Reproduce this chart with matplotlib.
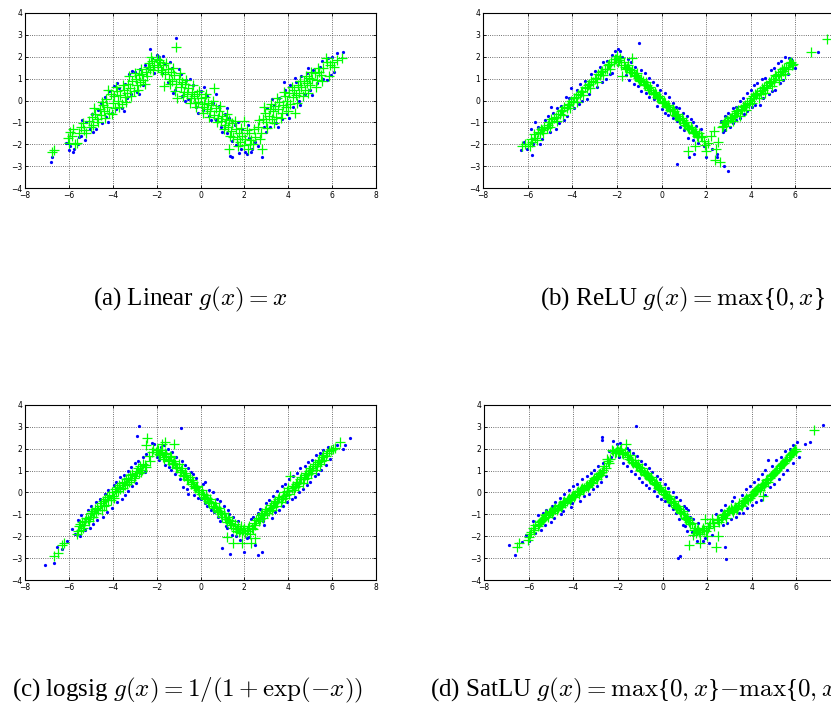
import numpy as np
import matplotlib
matplotlib.use("Agg")
import matplotlib.pyplot as plt

plt.rcParams['mathtext.fontset'] = 'cm'
plt.rcParams['font.family'] = ['Liberation Serif', 'DejaVu Serif']

# ---- (a) Linear ----
a_blue = [(-6.8,-2.8),(-6.75,-2.6),(-6.15,-1.95),(-6.05,-1.95),(-5.95,-2.1),(-5.8,-2.35),(-5.75,-2.2),(-5.55,-1.65),
          (-5.45,-1.6),(-5.4,-0.9),(-5.25,-1.8),(-5.05,-1.3),(-4.95,-0.6),(-4.75,-1.3),(-4.65,-0.45),(-4.5,-1.05),
          (-4.35,0.15),(-4.3,-0.75),(-4.15,0.45),(-4.05,-0.55),(-3.95,0.65),(-3.85,-0.4),(-3.7,0.55),(-3.6,-0.35),
          (-3.45,0.75),(-3.35,0.1),(-3.25,1.2),(-3.15,0.3),(-3.0,1.3),(-2.9,0.4),(-2.75,1.45),(-2.6,0.7),(-2.45,1.5),
          (-2.3,2.35),(-2.2,1.95),(-2.0,2.1),(-1.9,2.0),(-1.75,1.25),(-1.6,1.65),(-1.5,0.85),(-1.3,1.5),(-1.1,2.85),
          (-1.15,0.5),(-0.9,1.2),(-0.85,0.2),(-0.65,0.95),(-0.55,0.05),(-0.35,0.7),(-0.2,-0.3),(0.0,0.45),(0.1,-0.45),
          (0.3,0.2),(0.4,-0.7),(0.55,-0.1),(0.7,-0.9),(0.85,-0.25),(0.95,-1.2),(1.1,-0.6),(1.2,-1.5),(1.3,-0.8),
          (1.35,-2.55),(1.45,-2.6),(1.45,-1.85),(1.6,-2.05),(1.7,-1.0),(1.85,-2.2),(1.9,-1.3),(2.05,-2.35),(2.1,-2.45),
          (2.2,-1.7),(2.35,-2.2),(2.5,-1.9),(2.8,-2.6),(2.9,-1.2),(3.05,-0.35),(3.15,-1.2),(3.35,-0.2),(3.45,-1.05),
          (3.6,0.1),(3.7,-0.85),(3.85,0.5),(3.95,-0.6),(4.1,0.7),(4.2,-0.3),(4.35,0.85),(4.5,0.0),(4.6,1.1),(4.75,0.3),
          (4.85,1.25),(5.0,0.5),(5.15,1.4),(5.3,0.8),(5.45,1.55),(5.6,1.0),(5.8,1.95),(5.95,1.15),(6.0,2.0),(6.2,2.15),
          (6.5,2.2),
          (-6.0,-2.25),(-5.6,-2.0),(-5.2,-1.0),(-4.9,-1.45),(-4.55,-0.1),(-4.2,-1.0),(-3.8,0.8),(-3.5,-0.5),(-3.1,1.35),
          (-2.8,0.3),(-2.55,1.6),(-2.1,1.25),(-1.7,2.05),(-1.4,1.75),(-1.25,0.35),(-1.0,1.45),(-0.7,0.0),(-0.5,1.0),
          (-0.1,-0.55),(0.15,0.6),(0.5,-0.9),(0.7,0.3),(1.0,-1.45),(1.2,-0.35),(1.55,-1.1),(1.75,-2.4),(2.15,-1.1),
          (2.3,-2.35),(2.6,-2.1),(3.0,-1.45),(3.25,0.05),(3.55,-1.2),(3.8,0.85),(4.05,-0.8),(4.3,1.05),(4.55,-0.2),
          (4.9,1.5),(5.1,0.25),(5.55,1.8),(5.75,0.95),(6.1,1.3)]
a_green = [(-6.75,-2.35),(-6.7,-2.25),(-6.05,-1.7),(-5.95,-1.45),(-5.85,-1.6),(-5.7,-2.0),(-5.65,-1.95),(-5.45,-1.2),
           (-5.35,-1.05),(-5.3,-1.35),(-5.2,-1.5),(-5.1,-0.95),(-4.95,-0.75),(-4.9,-1.1),(-4.8,-0.6),(-4.7,-0.85),
           (-4.6,-0.4),(-4.55,-0.65),(-4.45,-0.2),(-4.4,-0.5),(-4.3,0.05),(-4.25,-0.3),(-4.15,-0.55),(-4.1,0.3),
           (-4.0,-0.1),(-3.95,0.2),(-3.9,-0.35),(-3.8,0.45),(-3.75,0.0),(-3.65,0.25),(-3.6,-0.15),(-3.5,0.5),
           (-3.45,0.15),(-3.35,0.35),(-3.3,0.75),(-3.2,0.55),(-3.1,0.9),(-3.05,0.45),(-2.95,1.0),(-2.9,0.7),
           (-2.8,1.15),(-2.75,0.85),(-2.65,1.2),(-2.6,0.95),(-2.5,1.3),(-2.45,1.1),(-2.35,1.7),(-2.3,1.45),
           (-2.2,1.8),(-2.1,1.6),(-2.0,1.9),(-1.95,1.55),(-1.85,1.75),(-1.8,1.4),(-1.7,1.6),(-1.65,0.65),(-1.6,1.2),
           (-1.5,1.45),(-1.45,1.0),(-1.35,1.3),(-1.3,0.9),(-1.2,1.15),(-1.1,2.45),(-1.1,0.75),(-1.05,0.1),(-1.0,1.0),
           (-0.9,0.6),(-0.85,0.85),(-0.75,0.4),(-0.7,0.75),(-0.6,0.3),(-0.55,0.55),(-0.45,0.1),(-0.4,0.4),(-0.3,0.2),
           (-0.25,-0.1),(-0.15,0.3),(-0.1,-0.05),(0.0,0.1),(0.05,-0.3),(0.15,-0.15),(0.2,0.15),(0.3,-0.4),(0.35,-0.1),
           (0.45,-0.5),(0.5,-0.2),(0.6,0.55),(0.6,-0.65),(0.7,-0.35),(0.8,-0.8),(0.85,-0.5),(0.95,-0.95),(1.0,-0.7),
           (1.1,-1.1),(1.15,-0.85),(1.25,-1.2),(1.3,-0.9),(1.3,-2.2),(1.4,-1.4),(1.45,-1.05),(1.5,-1.65),(1.6,-1.3),
           (1.65,-1.75),(1.75,-1.5),(1.8,-1.9),(1.9,-1.6),(2.0,-2.05),(2.0,-0.95),(2.05,-1.75),(2.15,-2.2),(2.2,-1.5),
           (2.3,-1.8),(2.4,-2.0),(2.5,-1.65),(2.6,-1.2),(2.65,-0.9),(2.75,-1.5),(2.8,-2.2),(2.85,-0.85),(2.95,-0.55),
           (3.0,-1.0),(3.1,-0.7),(3.15,-0.4),(3.25,-0.85),(3.3,-0.5),(3.4,-0.25),(3.45,-0.75),(3.55,-0.4),(3.6,-0.05),
           (3.7,-0.55),(3.75,-0.2),(3.85,0.2),(3.9,-0.3),(3.95,0.0),(4.05,0.35),(4.1,-0.15),(4.2,0.15),(4.25,0.5),
           (4.3,-0.55),(4.35,0.25),(4.45,0.7),(4.5,0.35),(4.6,0.6),(4.7,0.9),(4.75,0.5),(4.85,0.8),(4.95,1.05),
           (5.0,0.7),(5.1,1.0),(5.2,1.25),(5.3,0.95),(5.4,1.3),(5.5,1.15),(5.6,1.5),(5.75,1.75),(5.85,1.1),(5.9,1.6),
           (6.0,1.75),(6.1,1.55),(6.45,1.95),
           (-6.0,-1.95),(-5.8,-1.3),(-5.55,-1.5),(-5.0,-1.2),(-4.85,-0.35),(-4.65,-1.0),(-4.5,-0.05),(-4.35,-0.8),
           (-4.2,0.5),(-4.05,-0.6),(-3.85,0.6),(-3.7,-0.3),(-3.55,0.7),(-3.4,-0.05),(-3.25,1.1),(-3.15,0.2),
           (-3.0,1.25),(-2.85,0.5),(-2.7,1.45),(-2.55,0.75),(-2.4,1.55),(-2.25,2.0),(-2.15,1.4),(-1.9,1.85),
           (-1.75,1.3),(-1.55,1.7),(-1.4,0.75),(-1.25,1.5),(-1.15,0.45),(-0.95,1.25),(-0.8,0.2),(-0.65,0.95),
           (-0.5,-0.1),(-0.35,0.7),(-0.2,-0.3),(-0.05,0.45),(0.1,-0.55),(0.25,0.3),(0.4,-0.75),(0.55,0.0),(0.75,-1.0),
           (0.9,-0.25),(1.05,-1.3),(1.2,-0.6),(1.35,-1.6),(1.55,-0.95),(1.7,-2.1),(1.85,-1.25),(2.1,-1.35),(2.25,-2.0),
           (2.45,-1.3),(2.7,-1.75),(2.9,-0.3),(3.05,-1.25),(3.2,-0.15),(3.35,-1.05),(3.5,0.1),(3.65,-0.8),(3.8,0.4),
           (4.0,-0.5),(4.15,0.6),(4.4,-0.1),(4.55,0.9),(4.65,0.2),(4.8,1.1),(4.9,0.35),(5.05,1.3),(5.25,0.6),
           (5.35,1.5),(5.55,0.9),(5.7,1.95),(6.2,1.85)]

# ---- (b) ReLU ----
b_blue = [(-6.3,-2.25),(-6.15,-1.9),(-5.8,-2.5),(-5.75,-2.0),(-5.55,-1.2),(-5.35,-1.75),(-5.2,-0.9),(-5.0,-1.45),
          (-4.85,-0.55),(-4.6,-1.05),(-4.5,-0.25),(-4.25,-0.7),(-4.15,0.1),(-3.9,-0.35),(-3.8,0.5),(-3.55,0.0),
          (-3.45,0.9),(-3.25,0.3),(-3.15,1.2),(-2.9,0.6),(-2.75,1.55),(-2.5,1.0),(-2.45,1.8),(-2.2,1.25),(-2.1,2.25),
          (-1.95,2.35),(-1.6,1.15),(-1.75,2.0),(-1.35,1.75),(-1.0,2.65),(-1.05,0.65),(-0.75,1.25),(-0.7,0.35),
          (-0.4,0.85),(-0.35,0.05),(-0.05,0.5),(0.0,-0.4),(0.35,0.15),(0.3,-0.65),(0.65,-0.3),(0.7,-0.95),(0.95,-0.55),
          (1.0,-1.35),(1.3,-0.85),(1.2,-1.7),(1.55,-1.15),(1.65,-1.95),(1.25,-2.6),(1.45,-2.45),(0.7,-2.9),(2.0,-2.6),
          (2.5,-2.45),(2.5,-2.6),(2.8,-3.0),(3.0,-3.2),(2.75,-1.45),(2.65,-0.95),(3.05,-1.2),(3.0,-0.55),(3.35,-0.9),
          (3.35,-0.3),(3.7,-0.6),(3.65,0.1),(4.05,-0.3),(4.0,0.5),(4.3,0.8),(4.4,-0.2),(4.65,1.05),(4.8,0.3),(4.9,1.4),
          (5.1,0.5),(5.2,1.7),(5.45,0.95),(5.55,2.0),(5.8,1.9),(5.95,1.65),(6.0,1.5),(7.0,2.2),(7.7,3.2),(-5.85,-1.3),
          (-4.95,-0.3),(-4.05,0.55),
          (-6.05,-2.2),(-5.65,-1.0),(-5.45,-2.0),(-5.1,-0.7),(-4.75,-1.3),(-4.7,-0.35),(-4.35,-0.9),(-4.3,0.15),
          (-3.7,-0.15),(-3.65,0.75),(-3.35,0.05),(-3.0,1.35),(-2.65,0.85),(-2.6,1.75),(-2.3,1.2),(-2.2,2.1),
          (-1.85,2.25),(-1.5,1.9),(-1.45,0.95),(-1.2,1.55),(-1.25,0.75),(-0.9,1.4),(-0.9,0.45),(-0.55,1.05),
          (-0.55,0.15),(-0.2,0.7),(-0.2,-0.25),(0.15,0.35),(0.15,-0.55),(0.5,-0.1),(0.5,-0.8),(0.8,-0.35),(0.85,-1.2),
          (1.15,-0.7),(1.4,-1.0),(1.4,-1.8),(1.75,-1.3),(1.9,-2.1),(2.25,-2.2),(2.85,-1.35),(2.85,-0.7),(3.2,-1.05),
          (3.2,-0.35),(3.5,-0.8),(3.5,0.0),(3.85,-0.5),(3.85,0.35),(4.2,-0.2),(4.15,0.7),(4.55,0.1),(4.5,1.0),
          (4.95,0.45),(5.05,1.5),(5.3,0.8),(5.35,1.8),(5.65,1.2),(5.7,1.95)]
b_green = [(-6.25,-2.1),(-6.1,-2.0),(-5.9,-2.1),(-5.85,-1.75),(-5.7,-1.55),(-5.6,-1.8),(-5.55,-1.45),(-5.4,-1.3),
           (-5.3,-1.5),(-5.25,-1.2),(-5.1,-1.1),(-5.0,-1.2),(-4.95,-0.85),(-4.8,-0.8),(-4.7,-0.95),(-4.65,-0.6),
           (-4.5,-0.5),(-4.4,-0.65),(-4.35,-0.3),(-4.2,-0.2),(-4.1,-0.35),(-4.05,0.0),(-3.9,0.1),(-3.8,-0.05),
           (-3.75,0.3),(-3.6,0.4),(-3.5,0.25),(-3.45,0.6),(-3.3,0.7),(-3.2,0.55),(-3.15,0.9),(-3.0,1.0),(-2.9,0.85),
           (-2.85,1.2),(-2.7,1.3),(-2.6,1.15),(-2.55,1.45),(-2.4,1.6),(-2.3,1.45),(-2.25,1.75),(-2.1,1.9),(-2.0,2.05),
           (-1.95,1.75),(-1.85,1.95),(-1.8,1.6),(-1.75,1.1),(-1.7,1.75),(-1.6,1.45),(-1.5,1.6),(-1.4,1.3),(-1.3,1.95),
           (-1.3,1.4),(-1.2,1.1),(-1.1,1.25),(-1.0,0.95),(-0.9,1.0),(-0.8,0.75),(-0.7,0.85),(-0.6,0.55),(-0.5,0.6),
           (-0.4,0.35),(-0.3,0.4),(-0.2,0.15),(-0.1,0.2),(0.0,-0.05),(0.1,0.0),(0.2,-0.25),(0.3,-0.2),(0.4,-0.45),
           (0.5,-0.4),(0.6,-0.65),(0.7,-0.6),(0.8,-0.85),(0.9,-0.8),(1.0,-1.05),(1.1,-1.0),(1.2,-1.25),(1.3,-1.2),
           (1.4,-1.45),(1.5,-1.4),(1.6,-1.6),(1.7,-1.5),(1.8,-1.65),(1.2,-2.3),(1.5,-2.1),(1.9,-1.85),(2.0,-2.3),
           (2.1,-1.95),(2.2,-1.6),(2.35,-1.4),(2.4,-2.7),(2.45,-2.2),(2.55,-1.9),(2.6,-2.8),(2.7,-1.2),(2.8,-1.05),
           (2.9,-1.15),(2.95,-0.9),(3.1,-0.8),(3.2,-0.95),(3.25,-0.65),(3.4,-0.55),(3.5,-0.7),(3.55,-0.4),(3.7,-0.3),
           (3.8,-0.45),(3.85,-0.1),(3.95,0.0),(4.05,-0.1),(4.1,0.2),(4.25,0.25),(4.35,0.1),(4.4,0.45),(4.55,0.5),
           (4.65,0.35),(4.7,0.7),(4.85,0.8),(4.95,0.65),(5.0,1.0),(5.15,1.1),(5.25,0.95),(5.3,1.3),(5.45,1.35),
           (5.55,1.2),(5.6,1.55),(5.75,1.7),(5.85,1.6),(6.7,2.2),(7.4,2.8),
           (-6.0,-2.0),(-5.8,-1.9),(-5.65,-1.7),(-5.45,-1.5),(-5.35,-1.35),(-5.15,-1.25),(-5.05,-1.0),(-4.9,-1.0),
           (-4.75,-0.75),(-4.55,-0.6),(-4.45,-0.45),(-4.25,-0.35),(-4.15,-0.15),(-3.95,-0.05),(-3.85,0.15),
           (-3.65,0.25),(-3.55,0.45),(-3.35,0.55),(-3.25,0.75),(-3.05,0.85),(-2.95,1.05),(-2.75,1.15),(-2.65,1.35),
           (-2.45,1.45),(-2.35,1.65),(-2.15,1.75),(-2.05,1.9),(-1.9,1.85),(-1.65,1.55),(-1.55,1.5),(-1.45,1.45),
           (-1.35,1.3),(-1.25,1.25),(-1.15,1.15),(-1.05,1.05),(-0.95,0.9),(-0.85,0.9),(-0.75,0.7),(-0.65,0.7),
           (-0.55,0.5),(-0.45,0.5),(-0.35,0.3),(-0.25,0.3),(-0.15,0.1),(-0.05,0.1),(0.05,-0.1),(0.15,-0.1),
           (0.25,-0.3),(0.35,-0.3),(0.45,-0.5),(0.55,-0.5),(0.65,-0.7),(0.75,-0.7),(0.85,-0.9),(0.95,-0.9),
           (1.05,-1.1),(1.15,-1.15),(1.25,-1.3),(1.35,-1.3),(1.45,-1.5),(1.55,-1.5),(1.65,-1.65),(1.75,-1.6),
           (1.95,-2.05),(2.75,-1.15),(2.85,-0.95),(3.0,-0.95),(3.05,-0.8),(3.15,-0.75),(3.3,-0.7),(3.35,-0.5),
           (3.45,-0.45),(3.6,-0.45),(3.65,-0.25),(3.75,-0.2),(3.9,-0.15),(4.0,0.1),(4.15,0.1),(4.2,0.3),(4.3,0.35),
           (4.45,0.3),(4.5,0.55),(4.6,0.6),(4.75,0.55),(4.8,0.85),(4.9,0.9),(5.05,0.85),(5.1,1.15),(5.2,1.2),
           (5.35,1.15),(5.4,1.45),(5.5,1.5),(5.65,1.45),(5.7,1.7),(5.8,1.75),(5.9,1.65)]

# ---- (c) logsig ----
c_blue = [(-7.1,-3.3),(-6.7,-3.2),(-6.55,-2.5),(-5.85,-1.65),(-5.7,-1.9),(-5.45,-1.05),(-5.25,-1.7),(-5.0,-0.6),
          (-4.9,-1.45),(-4.6,-0.3),(-4.45,-1.1),(-4.2,0.1),(-4.05,-0.7),(-3.85,0.5),(-3.6,-0.3),(-3.5,0.8),(-3.3,0.05),
          (-3.15,1.15),(-2.95,0.45),(-2.85,1.45),(-2.9,2.6),(-2.8,3.05),(-2.7,0.9),(-2.6,1.6),(-2.2,2.25),(-2.0,1.6),
          (-1.8,2.1),(-1.6,1.25),(-1.5,2.0),(-1.35,1.05),(-1.1,1.6),(-0.9,2.95),(-0.95,0.6),(-0.8,0.25),(-0.7,1.25),
          (-0.55,-0.05),(-0.45,0.95),(-0.3,-0.1),(-0.2,0.65),(0.0,-0.3),(0.1,0.4),(0.3,-0.6),(0.4,0.1),(0.6,-0.9),
          (0.75,-0.3),(0.9,-1.3),(1.05,-0.6),(1.0,-2.55),(1.15,-1.55),(1.3,-1.0),(1.35,-2.8),(1.6,-2.0),(1.7,-1.3),
          (2.0,-2.7),(2.1,-2.1),(2.4,-1.1),(2.6,-2.85),(2.8,-2.7),(2.7,-0.75),(2.9,-1.5),(3.1,-0.35),(3.25,-1.15),
          (3.5,0.05),(3.6,-0.8),(3.85,0.4),(3.95,-0.45),(4.2,0.75),(4.3,-0.2),(4.55,1.1),(4.65,0.15),(4.9,1.4),
          (5.0,0.5),(5.25,1.7),(5.35,0.85),(5.6,1.95),(5.7,1.25),(6.5,2.0),(6.6,2.15),(6.8,2.5),
          (-6.3,-2.6),(-6.1,-2.2),(-5.6,-1.25),(-5.5,-2.0),(-5.15,-0.8),(-5.05,-1.6),(-4.75,-0.45),(-4.7,-1.25),
          (-4.35,-0.05),(-4.25,-0.9),(-3.95,0.35),(-3.8,-0.45),(-3.65,0.7),(-3.45,-0.1),(-3.3,1.0),(-3.1,0.3),
          (-3.0,1.35),(-2.55,0.95),(-2.5,1.75),(-2.1,2.2),(-1.9,1.5),(-1.65,2.15),(-1.45,1.15),(-1.3,1.85),
          (-1.15,0.85),(-0.85,1.45),(-0.6,0.15),(-0.55,1.1),(-0.35,0.85),(-0.1,-0.25),(0.2,0.5),(0.2,-0.5),
          (0.5,-0.8),(0.55,0.0),(0.8,-1.1),(0.9,-0.4),(1.2,-1.6),(1.25,-0.8),(1.45,-1.95),(1.5,-1.1),(1.8,-2.15),
          (2.2,-2.05),(2.3,-1.2),(2.5,-2.4),(2.6,-0.95),(2.85,-1.3),(3.0,-0.5),(3.4,-0.9),(3.3,-0.15),(3.75,-0.6),
          (3.7,0.3),(4.05,0.6),(4.15,-0.3),(4.4,0.9),(4.5,0.0),(4.75,1.2),(4.85,0.35),(5.1,1.5),(5.2,0.75),
          (5.45,1.8),(5.5,1.05),(5.8,2.1),(5.9,1.55),(6.2,2.15)]
c_green = [(-6.7,-2.9),(-6.5,-2.75),(-6.3,-2.4),(-6.2,-2.3),(-5.6,-1.75),(-5.55,-1.55),(-5.45,-1.7),(-5.4,-1.35),
           (-5.3,-1.5),(-5.2,-1.15),(-5.1,-1.3),(-5.0,-0.95),(-4.9,-1.1),(-4.8,-0.75),(-4.75,-0.95),(-4.6,-0.6),
           (-4.5,-0.8),(-4.45,-0.4),(-4.3,-0.55),(-4.25,-0.2),(-4.1,-0.35),(-4.05,0.0),(-3.95,-0.25),(-3.9,0.15),
           (-3.75,0.05),(-3.7,0.35),(-3.55,0.2),(-3.5,0.5),(-3.35,0.4),(-3.3,0.65),(-3.15,0.55),(-3.1,0.85),
           (-3.0,0.75),(-2.9,1.0),(-2.8,0.9),(-2.75,1.2),(-2.65,1.05),(-2.6,1.3),(-2.5,1.15),(-2.45,2.5),(-2.5,2.15),
           (-2.35,1.65),(-2.3,1.45),(-2.15,2.0),(-2.05,1.85),(-1.95,1.95),(-1.85,1.7),(-1.75,2.2),(-1.75,1.85),
           (-1.65,1.55),(-1.6,2.3),(-1.55,1.75),(-1.45,1.45),(-1.4,1.65),(-1.3,1.3),(-1.2,2.2),(-1.2,1.45),
           (-1.1,1.15),(-1.0,1.3),(-0.95,0.95),(-0.85,1.1),(-0.8,0.8),(-0.7,0.9),(-0.6,0.6),(-0.5,0.7),(-0.45,0.4),
           (-0.35,0.5),(-0.25,0.2),(-0.15,0.3),(-0.05,0.0),(0.05,0.1),(0.15,-0.2),(0.25,-0.1),(0.35,-0.4),
           (0.45,-0.3),(0.55,-0.6),(0.65,-0.5),(0.75,-0.8),(0.85,-0.7),(0.95,-1.0),(1.05,-0.95),(1.15,-1.2),
           (1.2,-2.05),(1.25,-1.1),(1.35,-1.4),(1.45,-1.3),(1.5,-1.6),(1.5,-2.3),(1.6,-1.75),(1.7,-1.55),(1.8,-1.7),
           (1.9,-1.85),(1.9,-2.3),(2.0,-1.6),(2.1,-1.75),(2.2,-1.55),(2.25,-1.9),(2.3,-2.3),(2.35,-1.6),(2.45,-1.4),
           (2.5,-2.1),(2.55,-1.25),(2.65,-1.3),(2.75,-1.05),(2.85,-1.15),(2.95,-0.85),(3.05,-0.95),(3.15,-0.7),
           (3.25,-0.8),(3.35,-0.5),(3.45,-0.6),(3.55,-0.3),(3.65,-0.45),(3.75,-0.15),(3.85,-0.25),(3.95,0.05),
           (4.05,-0.05),(4.1,0.75),(4.15,0.2),(4.25,0.1),(4.35,0.4),(4.45,0.3),(4.55,0.6),(4.65,0.45),(4.75,0.8),
           (4.85,0.65),(4.95,1.0),(5.05,0.9),(5.15,1.2),(5.25,1.05),(5.35,1.4),(5.45,1.3),(5.55,1.6),(5.65,1.5),
           (5.75,1.8),(6.05,2.0),(6.15,2.05),(6.35,2.3),
           (-5.65,-1.9),(-5.5,-1.45),(-5.35,-1.6),(-5.25,-1.3),(-5.15,-1.2),(-5.05,-1.1),(-4.95,-0.85),(-4.85,-0.95),
           (-4.7,-0.7),(-4.65,-0.8),(-4.55,-0.5),(-4.4,-0.6),(-4.35,-0.3),(-4.2,-0.35),(-4.15,-0.1),(-4.0,-0.15),
           (-3.85,0.0),(-3.8,0.25),(-3.65,0.15),(-3.6,0.45),(-3.45,0.35),(-3.4,0.6),(-3.25,0.5),(-3.2,0.8),
           (-3.05,0.65),(-2.95,0.9),(-2.85,1.1),(-2.7,0.95),(-2.55,1.25),(-2.2,1.85),(-2.0,2.0),(-1.9,1.75),
           (-1.8,1.95),(-1.7,1.6),(-1.6,1.8),(-1.5,1.5),(-1.35,1.6),(-1.25,1.35),(-1.15,1.3),(-1.05,1.1),(-0.9,1.05),
           (-0.75,0.75),(-0.65,0.8),(-0.55,0.55),(-0.4,0.55),(-0.3,0.3),(-0.2,0.25),(-0.1,0.1),(0.0,-0.05),
           (0.1,-0.05),(0.2,-0.3),(0.3,-0.25),(0.4,-0.5),(0.5,-0.45),(0.6,-0.7),(0.7,-0.65),(0.8,-0.9),(0.9,-0.85),
           (1.0,-1.1),(1.1,-1.1),(1.2,-1.35),(1.3,-1.25),(1.4,-1.5),(1.55,-1.45),(1.65,-1.65),(1.75,-1.8),
           (1.85,-1.55),(1.95,-1.7),(2.05,-1.85),(2.15,-1.6),(2.4,-1.65),(2.5,-1.5),(2.6,-1.15),(2.7,-1.2),
           (2.8,-0.95),(2.9,-1.05),(3.0,-0.75),(3.1,-0.85),(3.2,-0.55),(3.3,-0.65),(3.4,-0.4),(3.5,-0.45),
           (3.6,-0.2),(3.7,-0.3),(3.8,0.0),(3.9,-0.1),(4.0,0.2),(4.2,0.3),(4.3,0.25),(4.4,0.5),(4.5,0.45),(4.6,0.7),
           (4.7,0.6),(4.8,0.9),(4.9,0.85),(5.0,1.1),(5.1,1.05),(5.2,1.3),(5.3,1.2),(5.4,1.5),(5.5,1.45),(5.6,1.7),
           (5.7,1.65),(5.85,1.9),(5.95,1.95)]

# ---- (d) SatLU ----
d_blue = [(-6.9,-2.4),(-6.6,-2.85),(-6.3,-2.25),(-6.1,-1.95),(-5.6,-1.05),(-5.45,-1.7),(-5.2,-0.8),(-5.0,-1.35),
          (-4.8,-0.45),(-4.55,-1.0),(-4.4,-0.05),(-4.1,-0.65),(-4.0,0.3),(-3.7,-0.4),(-3.6,0.6),(-3.3,-0.05),
          (-3.2,0.9),(-2.95,0.3),(-2.9,1.2),(-2.7,2.55),(-2.7,2.4),(-2.55,0.75),(-2.4,1.9),(-2.2,2.35),(-1.9,2.25),
          (-1.75,1.35),(-1.5,1.95),(-1.4,1.0),(-1.2,3.05),(-1.15,1.65),(-1.05,0.65),(-0.8,1.3),(-0.75,0.35),
          (-0.45,0.95),(-0.4,0.05),(-0.1,0.6),(-0.05,-0.3),(0.25,0.2),(0.3,-0.55),(0.6,-0.2),(0.6,-0.95),(0.95,-0.6),
          (0.9,-1.5),(1.15,-0.8),(1.1,-1.75),(1.35,-1.2),(0.8,-2.9),(0.7,-3.0),(1.55,-2.2),(1.9,-2.1),(2.2,-1.95),
          (2.8,-2.5),(2.85,-3.05),(2.6,-0.8),(2.9,-1.4),(3.1,-0.4),(3.3,-1.1),(3.55,-0.1),(3.6,-0.95),(3.9,0.3),
          (4.0,-0.55),(4.3,0.6),(4.4,-0.35),(4.6,1.05),(4.75,1.5),(4.8,0.25),(5.1,1.5),(5.2,0.6),(5.5,1.9),(5.6,1.05),
          (5.85,2.15),(6.05,2.3),(6.1,1.6),(6.4,2.2),(6.6,2.3),(7.2,3.1),
          (-6.0,-2.2),(-5.8,-1.3),(-5.7,-1.85),(-5.35,-0.95),(-5.25,-1.5),(-4.95,-0.6),(-4.85,-1.15),(-4.6,-0.25),
          (-4.45,-0.85),(-4.2,0.1),(-4.05,-0.5),(-3.85,0.4),(-3.5,-0.15),(-3.4,0.75),(-3.1,0.15),(-3.05,1.05),
          (-2.75,0.5),(-2.65,1.35),(-2.3,1.6),(-2.05,2.2),(-1.95,1.6),(-1.6,2.05),(-1.6,1.2),(-1.3,1.8),(-1.25,0.85),
          (-0.95,1.45),(-0.9,0.5),(-0.6,1.1),(-0.6,0.2),(-0.25,0.75),(-0.25,-0.15),(0.1,0.4),(0.1,-0.4),(0.45,0.0),
          (0.45,-0.75),(0.8,-0.35),(0.75,-1.2),(1.05,-0.7),(1.0,-1.55),(1.25,-1.1),(1.3,-1.8),(1.6,-1.4),(1.8,-2.2),
          (2.1,-2.3),(2.4,-1.0),(2.7,-1.5),(2.8,-0.55),(3.05,-1.2),(3.2,-0.2),(3.45,-0.95),(3.75,0.15),(3.8,-0.7),
          (4.1,0.5),(4.2,-0.45),(4.45,0.85),(4.6,-0.1),(4.9,1.2),(5.0,0.4),(5.3,1.6),(5.4,0.85),(5.7,2.0),(5.85,1.35)]
d_green = [(-6.5,-2.5),(-6.45,-2.3),(-6.0,-2.05),(-5.95,-1.9),(-5.75,-1.7),(-5.7,-1.5),(-5.55,-1.45),(-5.45,-1.3),
           (-5.35,-1.2),(-5.25,-1.05),(-5.15,-1.1),(-5.05,-0.9),(-4.95,-0.95),(-4.85,-0.75),(-4.75,-0.8),
           (-4.65,-0.6),(-4.55,-0.65),(-4.45,-0.45),(-4.35,-0.5),(-4.25,-0.3),(-4.15,-0.35),(-4.05,-0.15),
           (-3.95,-0.2),(-3.85,0.0),(-3.75,-0.05),(-3.65,0.15),(-3.55,0.1),(-3.45,0.3),(-3.35,0.25),(-3.25,0.45),
           (-3.15,0.45),(-3.05,0.65),(-2.95,0.6),(-2.85,0.85),(-2.75,0.8),(-2.65,1.05),(-2.6,1.2),(-2.5,1.55),
           (-2.4,1.35),(-2.25,1.95),(-2.15,1.8),(-2.05,2.0),(-1.95,1.85),(-1.85,2.0),(-1.75,1.75),(-1.65,2.2),
           (-1.6,1.7),(-1.5,1.55),(-1.45,1.7),(-1.35,1.4),(-1.25,1.5),(-1.2,1.25),(-1.1,1.3),(-1.0,1.05),(-0.9,1.1),
           (-0.8,0.85),(-0.7,0.9),(-0.6,0.65),(-0.5,0.7),(-0.4,0.45),(-0.3,0.5),(-0.2,0.2),(-0.1,0.25),(0.0,0.0),
           (0.1,0.05),(0.2,-0.2),(0.3,-0.15),(0.4,-0.45),(0.5,-0.4),(0.6,-0.65),(0.7,-0.6),(0.8,-0.9),(0.9,-0.85),
           (1.0,-1.15),(1.1,-1.1),(1.2,-1.35),(1.2,-2.4),(1.3,-1.4),(1.35,-1.95),(1.45,-1.6),(1.5,-1.85),(1.6,-1.65),
           (1.7,-1.9),(1.7,-2.3),(1.8,-1.6),(1.9,-1.2),(1.95,-1.75),(2.05,-1.6),(2.0,-2.0),(2.15,-1.4),(2.2,-1.2),
           (2.3,-1.55),(2.4,-2.5),(2.5,-2.0),(2.45,-1.2),(2.55,-1.35),(2.65,-1.1),(2.75,-1.0),(2.85,-1.15),
           (2.95,-0.85),(3.05,-0.7),(3.15,-0.9),(3.25,-0.65),(3.35,-0.75),(3.45,-0.5),(3.55,-0.6),(3.65,-0.4),
           (3.75,-0.25),(3.85,-0.35),(3.95,-0.15),(4.05,-0.05),(4.15,0.05),(4.25,0.15),(4.35,0.1),(4.45,0.35),
           (4.5,-0.15),(4.55,0.3),(4.65,0.55),(4.75,0.5),(4.85,0.75),(4.95,0.85),(5.05,0.95),(5.15,1.05),(5.25,1.2),
           (5.35,1.3),(5.45,1.35),(5.55,1.5),(5.65,1.6),(5.75,1.75),(5.85,1.85),(5.95,2.0),(6.0,1.9),(6.8,2.85),
           (-6.05,-2.15),(-5.9,-1.8),(-5.8,-1.6),(-5.6,-1.55),(-5.5,-1.35),(-5.4,-1.25),(-5.3,-1.15),(-5.2,-1.0),
           (-5.1,-0.95),(-5.0,-0.85),(-4.9,-0.85),(-4.8,-0.7),(-4.7,-0.7),(-4.6,-0.55),(-4.5,-0.55),(-4.4,-0.4),
           (-4.3,-0.4),(-4.2,-0.25),(-4.1,-0.25),(-4.0,-0.1),(-3.9,-0.1),(-3.8,0.05),(-3.7,0.05),(-3.6,0.2),
           (-3.5,0.2),(-3.4,0.35),(-3.3,0.35),(-3.2,0.5),(-3.1,0.55),(-3.0,0.7),(-2.9,0.75),(-2.8,0.9),(-2.7,0.95),
           (-2.55,1.1),(-2.45,1.45),(-2.35,1.55),(-2.2,1.9),(-2.1,1.85),(-2.0,1.9),(-1.9,1.95),(-1.8,1.8),
           (-1.7,1.85),(-1.55,1.6),(-1.4,1.5),(-1.3,1.35),(-1.15,1.2),(-1.05,1.15),(-0.95,1.0),(-0.85,0.95),
           (-0.75,0.8),(-0.65,0.75),(-0.55,0.6),(-0.45,0.55),(-0.35,0.4),(-0.25,0.35),(-0.15,0.15),(-0.05,0.1),
           (0.05,-0.05),(0.15,-0.1),(0.25,-0.25),(0.35,-0.3),(0.45,-0.5),(0.55,-0.55),(0.65,-0.7),(0.75,-0.75),
           (0.85,-0.95),(0.95,-1.0),(1.05,-1.2),(1.15,-1.25),(1.25,-1.45),(1.4,-1.7),(1.55,-1.7),(1.65,-1.8),
           (1.75,-1.7),(1.85,-1.7),(2.1,-1.55),(2.25,-1.4),(2.5,-1.25),(2.6,-1.2),(2.7,-1.05),(2.8,-1.05),
           (2.9,-0.95),(3.0,-0.8),(3.1,-0.8),(3.2,-0.75),(3.3,-0.7),(3.4,-0.6),(3.5,-0.55),(3.6,-0.5),(3.7,-0.35),
           (3.8,-0.3),(3.9,-0.25),(4.0,-0.1),(4.1,0.0),(4.2,0.1),(4.3,0.2),(4.4,0.25),(4.5,0.4),(4.6,0.45),
           (4.7,0.6),(4.8,0.65),(4.9,0.8),(5.0,0.9),(5.1,1.0),(5.2,1.1),(5.3,1.25),(5.4,1.35),(5.5,1.45),(5.6,1.55),
           (5.7,1.7),(5.8,1.8),(5.9,1.9)]

# braces set outside the math so they keep their text size
captions = [r'(a) Linear $g(x) = x$',
            r'(b) ReLU $g(x) = \max${$0, x$}',
            r'(c) logsig $g(x) = 1/(1+\exp(-x))$',
            r'(d) SatLU $g(x) = \max${$0, x$}$-\max${$0, x-1$}']

xticks = [-8, -6, -4, -2, 0, 2, 4, 6, 8]
yticks = [-4, -3, -2, -1, 0, 1, 2, 3, 4]

W, H = 831, 705
fig = plt.figure(figsize=(W / 100, H / 100), dpi=100)

# axes boxes in pixels: left, top, width
boxes = [(25, 13, 351), (483, 13, 357), (25, 405, 351), (484, 405, 357)]
caption_pos = [(93, 299), (540, 299), (12, 690), (430, 690)]
ah = 175

panels = [(a_blue, a_green), (b_blue, b_green), (c_blue, c_green), (d_blue, d_green)]

for (blue, green), (left, top, aw), cap, (cx, cy) in zip(panels, boxes, captions, caption_pos):
    ax = fig.add_axes([left / W, 1 - (top + ah) / H, aw / W, ah / H])
    bx, by = np.array(blue).T
    gx, gy = np.array(green).T
    ax.plot(bx, by, '.', color=(0, 0, 1), markersize=2.6, zorder=2)
    ax.plot(gx, gy, '+', color=(0, 1, 0), markersize=6.5, markeredgewidth=0.9, zorder=3)
    ax.set_xlim(-8, 8)
    ax.set_ylim(-4, 4)
    ax.set_xticks(xticks)
    ax.set_yticks(yticks)
    ax.grid(True, linestyle=':', color='0.25', linewidth=0.6)
    ax.set_axisbelow(True)
    ax.tick_params(direction='in', length=2.5, width=0.6, labelsize=5.5,
                   top=True, right=True, pad=2)
    for lab in ax.get_xticklabels() + ax.get_yticklabels():
        lab.set_family('DejaVu Sans')
    for s in ax.spines.values():
        s.set_linewidth(0.8)
    fig.text(cx / W, 1 - cy / H, cap, fontsize=18, ha='left', va='center')

fig.savefig('out.png', dpi=100)
